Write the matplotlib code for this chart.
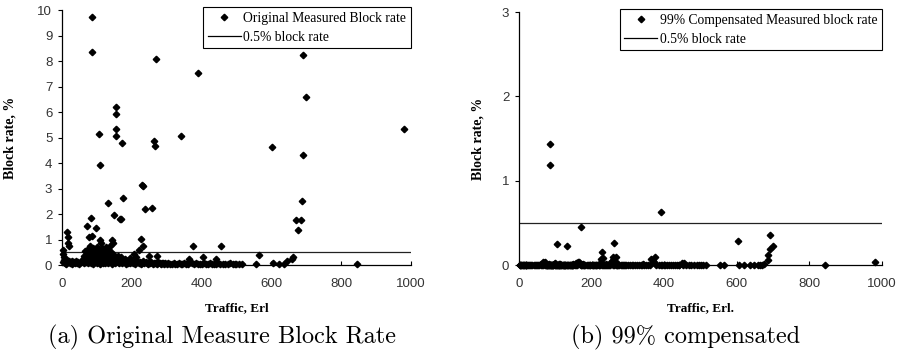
import numpy as np
import matplotlib
matplotlib.use("Agg")
import matplotlib.pyplot as plt
from matplotlib.lines import Line2D

# outliers: traffic (Erl), original block rate (%), 99% compensated block rate (%)
traffic_out = [86, 86, 268, 390, 156, 156, 156, 156, 106, 172,
               263, 266, 342, 109, 229, 232, 132, 175, 239, 258,
               148, 165, 170, 73, 84, 13, 16, 18, 19, 76,
               97, 87, 110, 112, 125, 138, 146, 143, 225, 232,
               220, 248, 271, 374, 403, 455, 441, 365, 692, 700,
               981, 603, 692, 687, 670, 685, 675, 565, 663, 658,
               646, 605, 621, 844, 555, 635]
orig_out = [9.71, 8.34, 8.08, 7.52, 6.21, 5.91, 5.35, 5.06, 5.12, 4.80,
            4.88, 4.68, 5.06, 3.91, 3.12, 3.10, 2.43, 2.61, 2.21, 2.24,
            1.96, 1.82, 1.82, 1.54, 1.83, 1.31, 1.09, 0.85, 0.75, 1.09,
            1.45, 1.15, 1.00, 0.85, 0.70, 0.75, 0.88, 0.98, 1.03, 0.74,
            0.59, 0.37, 0.35, 0.74, 0.33, 0.74, 0.25, 0.25, 8.24, 6.57,
            5.35, 4.64, 4.33, 2.51, 1.76, 1.76, 1.37, 0.39, 0.32, 0.22,
            0.16, 0.08, 0.05, 0.03, 0.02, 0.05]
comp_out = [1.44, 1.19, 0.10, 0.625, 0.02, 0.01, 0.01, 0.01, 0.245, 0.455,
            0.265, 0.03, 0.01, 0.01, 0.15, 0.08, 0.22, 0.01, 0.01, 0.10,
            0.01, 0.03, 0.01, 0.04, 0.01, 0, 0, 0, 0, 0,
            0.01, 0, 0, 0.01, 0, 0, 0, 0, 0.07, 0,
            0, 0, 0, 0.10, 0, 0.02, 0, 0.07, 0.35, 0.22,
            0.03, 0.285, 0.19, 0.12, 0, 0.06, 0.01, 0, 0, 0,
            0, 0, 0, 0, 0, 0]

# dense low band, 0-320 Erl
traffic_low = [2, 5, 8, 10, 12, 15, 18, 20, 22, 25,
               28, 30, 33, 36, 40, 43, 46, 50, 53, 56,
               60, 63, 66, 70, 72, 75, 78, 80, 83, 85,
               88, 90, 92, 95, 98, 100, 103, 105, 108, 110,
               113, 115, 118, 120, 123, 126, 128, 130, 133, 136,
               140, 143, 146, 150, 153, 156, 160, 163, 166, 170,
               173, 176, 180, 183, 186, 190, 193, 196, 200, 203,
               206, 210, 213, 216, 220, 223, 226, 230, 233, 236,
               240, 243, 246, 250, 253, 256, 260, 263, 266, 270,
               273, 276, 280, 283, 286, 290, 293, 296, 300, 305,
               310, 315, 320]
orig_low = [0.12, 0.18, 0.08, 0.15, 0.05, 0.20, 0.10, 0.14, 0.06, 0.11,
            0.17, 0.04, 0.13, 0.09, 0.16, 0.07, 0.12, 0.05, 0.10, 0.15,
            0.22, 0.08, 0.18, 0.12, 0.25, 0.06, 0.20, 0.14, 0.09, 0.28,
            0.16, 0.05, 0.21, 0.11, 0.18, 0.07, 0.24, 0.13, 0.19, 0.04,
            0.15, 0.22, 0.09, 0.17, 0.06, 0.20, 0.12, 0.25, 0.08, 0.14,
            0.18, 0.05, 0.11, 0.21, 0.09, 0.16, 0.13, 0.06, 0.19, 0.10,
            0.07, 0.15, 0.12, 0.04, 0.17, 0.09, 0.14, 0.06, 0.11, 0.08,
            0.13, 0.05, 0.10, 0.16, 0.07, 0.12, 0.04, 0.09, 0.14, 0.06,
            0.11, 0.08, 0.05, 0.10, 0.07, 0.12, 0.04, 0.09, 0.06, 0.08,
            0.05, 0.10, 0.07, 0.04, 0.06, 0.09, 0.05, 0.07, 0.04, 0.06,
            0.05, 0.03, 0.06]
comp_low = [0, 0, 0, 0, 0, 0, 0, 0, 0, 0,
            0, 0, 0, 0, 0, 0, 0, 0, 0, 0,
            0.01, 0, 0.03, 0.02, 0, 0, 0, 0, 0, 0,
            0, 0, 0, 0, 0, 0.02, 0, 0, 0, 0,
            0, 0, 0, 0, 0, 0, 0, 0, 0, 0,
            0, 0, 0, 0, 0, 0, 0.02, 0.04, 0.01, 0,
            0, 0, 0, 0, 0, 0, 0, 0, 0, 0,
            0, 0, 0, 0, 0, 0, 0.04, 0, 0, 0,
            0, 0, 0, 0, 0.03, 0.05, 0, 0, 0, 0,
            0, 0, 0, 0, 0, 0, 0, 0, 0, 0,
            0, 0, 0]

# cloud between 0.2 and 0.8 %
traffic_mid = [62, 66, 70, 74, 77, 80, 82, 85, 88, 90,
               93, 95, 98, 100, 103, 106, 108, 111, 114, 117,
               120, 123, 127, 131, 135, 140, 145, 150, 160, 170,
               180, 195, 205, 212, 2, 6, 4]
orig_mid = [0.35, 0.55, 0.28, 0.62, 0.42, 0.75, 0.30, 0.50, 0.68, 0.38,
            0.22, 0.58, 0.45, 0.72, 0.33, 0.60, 0.25, 0.48, 0.65, 0.36,
            0.55, 0.28, 0.44, 0.62, 0.32, 0.50, 0.26, 0.40, 0.35, 0.30,
            0.22, 0.28, 0.45, 0.30, 0.45, 0.30, 0.60]
comp_mid = [0, 0, 0.01, 0, 0, 0, 0, 0, 0, 0,
            0, 0, 0, 0.01, 0, 0, 0, 0, 0, 0,
            0, 0, 0, 0, 0, 0, 0, 0, 0, 0,
            0, 0, 0, 0, 0, 0, 0]

# 320-520 Erl
traffic_far = [325, 330, 335, 340, 345, 350, 355, 360, 368, 372,
               378, 385, 390, 395, 400, 408, 412, 418, 425, 430,
               435, 442, 448, 452, 460, 468, 475, 482, 490, 495,
               500, 508, 515]
orig_far = [0.05, 0.03, 0.06, 0.02, 0.04, 0.07, 0.03, 0.05, 0.12, 0.08,
            0.04, 0.06, 0.03, 0.05, 0.02, 0.07, 0.04, 0.03, 0.06, 0.05,
            0.02, 0.04, 0.08, 0.03, 0.05, 0.02, 0.04, 0.06, 0.03, 0.02,
            0.05, 0.03, 0.02]
comp_far = [0, 0, 0, 0, 0, 0, 0, 0, 0.05, 0.03,
            0, 0, 0, 0, 0, 0, 0, 0, 0, 0,
            0, 0, 0.02, 0, 0, 0, 0, 0, 0, 0,
            0, 0, 0]

threshold = 0.5

traffic = np.array(traffic_out + traffic_low + traffic_mid + traffic_far)
orig_rate = np.array(orig_out + orig_low + orig_mid + orig_far)
comp_rate = np.array(comp_out + comp_low + comp_mid + comp_far)

serif = "Liberation Serif"
sans = "Liberation Sans"

fig = plt.figure(figsize=(9.04, 3.54), dpi=100)
ax1 = fig.add_axes([0.0686, 0.2514, 0.386, 0.7203])
ax2 = fig.add_axes([0.5741, 0.2514, 0.4016, 0.7147])


def style(ax, rates, ymax, xlabel, lab_x, legend_label):
    ax.plot(traffic, rates, linestyle="none", marker="D", markersize=3.3,
            color="black", clip_on=False, zorder=3)
    ax.axhline(threshold, color="#222222", linewidth=0.9, zorder=2)
    ax.set_xlim(0, 1000)
    ax.set_ylim(0, ymax)
    ax.set_xticks(np.arange(0, 1001, 200))
    ax.set_yticks(np.arange(0, ymax + 1, 1))
    for s in ["top", "right"]:
        ax.spines[s].set_visible(False)
    for s in ["left", "bottom"]:
        ax.spines[s].set_linewidth(0.9)
    ax.tick_params(axis="x", direction="in", length=3, width=0.8, pad=9)
    ax.tick_params(axis="y", direction="out", length=3, width=0.8, pad=4)
    for t in ax.get_xticklabels() + ax.get_yticklabels():
        t.set_fontfamily(sans)
        t.set_fontsize(9.5)
        t.set_color("#333333")
    ax.set_xlabel(xlabel, fontfamily=serif, fontweight="bold", fontsize=9.5)
    ax.set_ylabel("Block rate, %", fontfamily=serif, fontweight="bold", fontsize=10)
    ax.xaxis.set_label_coords(0.5, -0.145)
    ax.yaxis.set_label_coords(lab_x, 0.5)
    handles = [Line2D([], [], linestyle="none", marker="D", markersize=3.3, color="black"),
               Line2D([], [], color="black", linewidth=0.9)]
    leg = ax.legend(handles, [legend_label, "0.5% block rate"], loc="upper right",
                    bbox_to_anchor=(1.0, 1.01), prop={"family": serif, "size": 9.8},
                    frameon=True, fancybox=False, edgecolor="black", framealpha=1,
                    borderpad=0.35, handlelength=2.4, handletextpad=0.2,
                    labelspacing=0.4, borderaxespad=0)
    leg.get_frame().set_linewidth(0.8)


style(ax1, orig_rate, 10, "Traffic, Erl", -0.13, "Original Measured Block rate")
style(ax2, comp_rate, 3, "Traffic, Erl.", -0.094, "99% Compensated Measured block rate")

fig.text(222 / 904, 1 - 337 / 354, "(a) Original Measure Block Rate",
         ha="center", va="center", family="cmr10", fontsize=17.5)
fig.text(686 / 904, 1 - 337 / 354, "(b) 99% compensated",
         ha="center", va="center", family="cmr10", fontsize=17.5)

fig.savefig("out.png", dpi=100)
